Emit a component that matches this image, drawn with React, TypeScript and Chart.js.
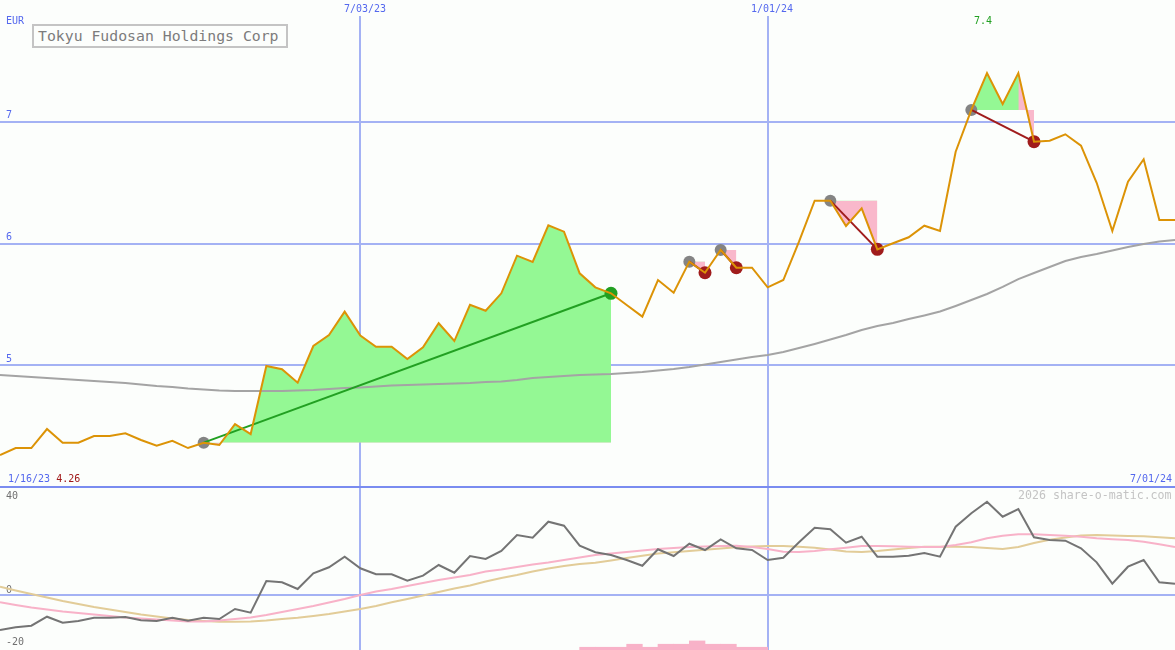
import React, { useEffect, useRef } from 'react';
import { Chart, registerables } from 'chart.js';

Chart.register(...registerables);

// ---------- DATA ----------
// weekly closes, index 0 = week of 1/16/23 ... index 75 = week of 7/01/24
const priceValues = [
  4.263, 4.32, 4.32, 4.476, 4.364, 4.364, 4.419, 4.419, 4.441, 4.386,
  4.339, 4.38, 4.32, 4.364, 4.345, 4.517, 4.435, 4.994, 4.967, 4.857,
  5.158, 5.248, 5.44, 5.243, 5.152, 5.152, 5.051, 5.147, 5.345, 5.199,
  5.497, 5.448, 5.591, 5.9, 5.848, 6.15, 6.097, 5.755, 5.64, 5.591,
  5.495, 5.399, 5.7, 5.596, 5.851, 5.76, 5.947, 5.801, 5.801, 5.64,
  5.7, 6.015, 6.352, 6.352, 6.144, 6.289, 5.952, 6.002, 6.051, 6.146,
  6.103, 6.754, 7.097, 7.4, 7.146, 7.4, 6.836, 6.844, 6.897, 6.803,
  6.499, 6.103, 6.508, 6.692, 6.193, 6.193,
];

const movingAverage = [
  4.92, 4.912, 4.903, 4.895, 4.887, 4.879, 4.871, 4.862, 4.854, 4.842,
  4.83, 4.821, 4.809, 4.801, 4.793, 4.789, 4.789, 4.789, 4.789, 4.793,
  4.797, 4.805, 4.813, 4.817, 4.825, 4.834, 4.838, 4.842, 4.846, 4.85,
  4.854, 4.862, 4.867, 4.879, 4.895, 4.903, 4.912, 4.92, 4.924, 4.928,
  4.936, 4.945, 4.957, 4.969, 4.986, 5.006, 5.027, 5.047, 5.068, 5.084,
  5.109, 5.142, 5.175, 5.211, 5.248, 5.29, 5.322, 5.347, 5.38, 5.409,
  5.441, 5.487, 5.536, 5.585, 5.643, 5.708, 5.758, 5.807, 5.856, 5.889,
  5.914, 5.943, 5.971, 5.996, 6.016, 6.029,
];

const oscillator = [
  -12.73, -11.75, -11.16, -7.89, -10.07, -9.45, -8.25, -8.25, -8.0, -9.2,
  -9.45, -8.25, -9.35, -8.25, -8.73, -5.09, -6.44, 5.09, 4.62, 2.18,
  7.89, 10.07, 13.93, 9.71, 7.53, 7.53, 5.2, 7.02, 10.91, 8.11,
  14.18, 13.09, 16.0, 21.82, 20.84, 26.65, 25.2, 17.93, 15.53, 14.55,
  12.73, 10.65, 16.62, 14.18, 18.65, 16.36, 20.25, 16.98, 16.36, 12.73,
  13.56, 19.16, 24.47, 23.89, 19.02, 21.2, 13.93, 13.93, 14.29, 15.27,
  13.93, 24.84, 29.71, 33.93, 28.47, 31.27, 20.98, 20.0, 19.75, 16.98,
  11.89, 4.11, 10.29, 12.73, 4.62, 4.11,
];

const oscillatorPink = [
  -2.65, -3.64, -4.55, -5.27, -6.0, -6.55, -7.09, -7.64, -8.18, -8.55,
  -8.91, -9.27, -9.64, -9.64, -9.27, -8.73, -8.18, -7.27, -6.18, -5.09,
  -4.0, -2.73, -1.45, 0.0, 1.27, 2.18, 3.27, 4.36, 5.45, 6.36,
  7.27, 8.55, 9.27, 10.18, 11.09, 11.82, 12.73, 13.64, 14.55, 15.09,
  15.64, 16.18, 16.73, 17.09, 17.45, 17.64, 17.82, 17.93, 17.45, 16.73,
  15.75, 15.64, 16.0, 16.62, 17.2, 17.82, 17.82, 17.71, 17.56, 17.45,
  17.45, 18.18, 19.16, 20.62, 21.56, 22.07, 22.07, 21.82, 21.56, 21.2,
  20.62, 20.25, 20.0, 19.38, 18.44, 17.45,
];

const oscillatorTan = [
  3.02, 1.64, 0.36, -0.91, -2.18, -3.27, -4.36, -5.27, -6.18, -7.09,
  -7.82, -8.55, -9.09, -9.45, -9.71, -9.71, -9.64, -9.27, -8.73, -8.25,
  -7.64, -6.91, -6.0, -5.09, -4.0, -2.65, -1.45, -0.18, 1.09, 2.36,
  3.45, 4.91, 6.18, 7.27, 8.55, 9.64, 10.55, 11.27, 11.75, 12.55,
  13.45, 14.29, 15.09, 15.53, 16.0, 16.47, 16.91, 17.35, 17.64, 17.82,
  17.82, 17.56, 17.2, 16.55, 15.82, 15.64, 16.0, 16.55, 17.09, 17.56,
  17.56, 17.56, 17.45, 17.09, 16.73, 17.45, 18.91, 20.11, 20.91, 21.64,
  21.82, 21.64, 21.45, 21.35, 20.98, 20.62,
];

// small histogram at the bottom of the lower panel (week index, value)
const barWeeks = [37, 38, 39, 40, 41, 42, 43, 44, 45, 46, 47, 48];
const barValues = [-19.0, -19.0, -19.0, -17.9, -19.0, -17.9, -17.9, -16.7, -17.9, -17.9, -19.0, -19.0];

// trades (week index of entry / exit)
const tradeEntry = [13, 44, 46, 53, 62];
const tradeExit = [39, 45, 47, 56, 66];
const tradeWon = [true, false, false, false, false];

// vertical date grid lines
const dateLineWeeks = [23, 49];
const dateLineLabels = ['7/03/23', '1/01/24'];
const priceTicks = [5, 6, 7];

// ---------- STYLE ----------
const FONT = "'DejaVu Sans Mono', 'Liberation Mono', monospace";
const BG = '#fcfefc';
const GRID = '#a4b2f4';
const DIVIDER = '#7a8cf0';
const BLUE = '#5468ee';
const GREEN_FILL = '#94f894';
const PINK_FILL = '#f9b8cb';
const PRICE = '#dc9306';
const MA_GREY = '#a4a4a4';
const TRADE_GREEN = '#22a022';
const TRADE_RED = '#a01c1c';
const ENTRY_GREY = '#848484';
const OSC_GREY = '#747474';
const OSC_PINK = '#f8b2c8';
const OSC_TAN = '#e2cc98';

const W = 1175;
const TOP_H = 487;
const PX_PER_EUR = 121.75;
const TOP_PAD = 16;

const pts = (arr: number[], from = 0, to = arr.length - 1) => {
  const out: { x: number; y: number }[] = [];
  for (let i = from; i <= to; i++) out.push({ x: i, y: arr[i] });
  return out;
};

function xScale() {
  return {
    type: 'linear' as const,
    min: 0,
    max: priceValues.length - 1,
    offset: false,
    border: { display: false },
    grid: { color: GRID, lineWidth: 2, drawTicks: false, offset: false },
    ticks: { display: false },
    afterBuildTicks: (s: any) => {
      s.ticks = dateLineWeeks.map((v) => ({ value: v }));
    },
    afterFit: (s: any) => {
      s.height = 0;
      s.paddingLeft = 0;
      s.paddingRight = 0;
    },
  };
}

const yFit = (s: any) => {
  s.width = 0;
  s.paddingTop = 0;
  s.paddingBottom = 0;
};

export default function App() {
  const topRef = useRef<HTMLCanvasElement>(null);
  const botRef = useRef<HTMLCanvasElement>(null);

  useEffect(() => {
    document.body.style.margin = '0';
    document.body.style.background = BG;

    const fillSets: any[] = [];
    tradeEntry.forEach((e, k) => {
      const x = tradeExit[k];
      const base = priceValues[e];
      fillSets.push({
        data: pts(priceValues, e, x),
        borderWidth: 0,
        borderColor: 'transparent',
        pointRadius: 0,
        fill: { value: base, above: GREEN_FILL, below: PINK_FILL },
        order: 7,
      });
      if (!tradeWon[k]) {
        // the losing exit leg is shaded pink on both sides of the entry level
        fillSets.push({
          data: pts(priceValues, x - 1, x),
          borderWidth: 0,
          borderColor: 'transparent',
          pointRadius: 0,
          fill: { value: base, above: PINK_FILL, below: PINK_FILL },
          order: 6,
        });
      }
    });

    const tradeLines = tradeEntry.map((e, k) => ({
      data: [
        { x: e, y: priceValues[e] },
        { x: tradeExit[k], y: priceValues[tradeExit[k]] },
      ],
      borderColor: tradeWon[k] ? TRADE_GREEN : TRADE_RED,
      borderWidth: 2,
      pointRadius: 0,
      fill: false,
      order: 2,
    }));

    const top = new Chart(topRef.current as HTMLCanvasElement, {
      type: 'line',
      data: {
        datasets: [
          ...fillSets,
          {
            data: pts(movingAverage),
            borderColor: MA_GREY,
            borderWidth: 2,
            pointRadius: 0,
            fill: false,
            order: 5,
          },
          {
            data: tradeEntry.map((e) => ({ x: e, y: priceValues[e] })),
            showLine: false,
            pointRadius: 6,
            pointBorderWidth: 0,
            pointBackgroundColor: ENTRY_GREY,
            order: 4,
          },
          {
            data: tradeExit.map((e) => ({ x: e, y: priceValues[e] })),
            showLine: false,
            pointRadius: 6.5,
            pointBorderWidth: 0,
            pointBackgroundColor: tradeWon.map((w) => (w ? TRADE_GREEN : TRADE_RED)),
            order: 3,
          },
          ...tradeLines,
          {
            data: pts(priceValues),
            borderColor: PRICE,
            borderWidth: 2,
            pointRadius: 0,
            fill: false,
            order: 1,
          },
        ],
      },
      options: {
        animation: false,
        responsive: false,
        maintainAspectRatio: false,
        layout: { autoPadding: false, padding: { top: TOP_PAD, left: 0, right: 0, bottom: 0 } },
        plugins: { legend: { display: false }, tooltip: { enabled: false } },
        elements: { line: { tension: 0 }, point: { radius: 0 } },
        scales: {
          x: xScale() as any,
          y: {
            type: 'linear',
            min: 4,
            max: 4 + (TOP_H - TOP_PAD) / PX_PER_EUR,
            border: { display: false },
            grid: { color: GRID, lineWidth: 2, drawTicks: false },
            ticks: {
              mirror: true,
              padding: 6,
              labelOffset: -6,
              color: BLUE,
              font: { family: FONT, size: 10 },
            },
            afterBuildTicks: (s: any) => {
              s.ticks = priceTicks.map((v) => ({ value: v }));
            },
            afterFit: yFit,
          } as any,
        },
      },
    });

    const bot = new Chart(botRef.current as HTMLCanvasElement, {
      type: 'line',
      data: {
        datasets: [
          {
            type: 'bar',
            data: barWeeks.map((w, i) => ({ x: w + 0.5, y: barValues[i] })),
            backgroundColor: OSC_PINK,
            base: -20,
            barPercentage: 1,
            categoryPercentage: 1,
            grouped: false,
            order: 4,
          } as any,
          {
            data: pts(oscillatorTan),
            borderColor: OSC_TAN,
            borderWidth: 2,
            pointRadius: 0,
            fill: false,
            order: 3,
          },
          {
            data: pts(oscillatorPink),
            borderColor: OSC_PINK,
            borderWidth: 2,
            pointRadius: 0,
            fill: false,
            order: 2,
          },
          {
            data: pts(oscillator),
            borderColor: OSC_GREY,
            borderWidth: 2,
            pointRadius: 0,
            fill: false,
            order: 1,
          },
        ],
      },
      options: {
        animation: false,
        responsive: false,
        maintainAspectRatio: false,
        layout: { autoPadding: false, padding: 0 },
        plugins: { legend: { display: false }, tooltip: { enabled: false } },
        elements: { line: { tension: 0 }, point: { radius: 0 } },
        scales: {
          x: xScale() as any,
          y: {
            type: 'linear',
            min: -20,
            max: 40,
            border: { display: false },
            grid: { color: GRID, lineWidth: 2, drawTicks: false },
            ticks: {
              mirror: true,
              padding: 6,
              labelOffset: -5,
              color: '#707070',
              font: { family: FONT, size: 10 },
            },
            afterBuildTicks: (s: any) => {
              s.ticks = [{ value: 0 }];
            },
            afterFit: yFit,
          } as any,
        },
      },
    });

    return () => {
      top.destroy();
      bot.destroy();
    };
  }, []);

  const txt = (extra: React.CSSProperties): React.CSSProperties => ({
    position: 'absolute',
    whiteSpace: 'nowrap',
    fontFamily: FONT,
    fontSize: 10,
    lineHeight: '10px',
    ...extra,
  });

  return (
    <div style={{ position: 'relative', width: W, height: 650, background: BG, overflow: 'hidden' }}>
      <canvas ref={topRef} width={W} height={TOP_H} style={{ position: 'absolute', left: 0, top: 0, display: 'block' }} />
      <canvas ref={botRef} width={W} height={165} style={{ position: 'absolute', left: 0, top: 485, display: 'block' }} />
      <div style={{ position: 'absolute', left: 0, top: 486, width: W, height: 2, background: DIVIDER }} />

      <div style={txt({ left: 6, top: 16, color: BLUE })}>EUR</div>
      <div style={txt({ left: 344, top: 4, color: BLUE })}>{dateLineLabels[0]}</div>
      <div style={txt({ left: 751, top: 4, color: BLUE })}>{dateLineLabels[1]}</div>
      <div style={txt({ left: 974, top: 16, color: TRADE_GREEN })}>7.4</div>
      <div style={txt({ left: 8, top: 474, color: BLUE })}>
        1/16/23 <span style={{ color: '#a01818' }}>4.26</span>
      </div>
      <div style={txt({ left: 1130, top: 474, color: BLUE })}>7/01/24</div>
      <div style={txt({ left: 6, top: 491, color: '#707070' })}>40</div>
      <div style={txt({ left: 6, top: 637, color: '#707070' })}>-20</div>
      <div style={txt({ left: 1018, top: 490, fontSize: 11.6, lineHeight: '11.6px', color: '#c4c4c4' })}>
        2026 share-o-matic.com
      </div>

      <div
        style={{
          position: 'absolute',
          left: 32,
          top: 24,
          width: 256,
          height: 24,
          boxSizing: 'border-box',
          border: '2px solid #c4c4c4',
          background: BG,
          color: '#7c7c7c',
          fontFamily: FONT,
          fontSize: 14.8,
          lineHeight: '20px',
          paddingLeft: 4,
          whiteSpace: 'nowrap',
        }}
      >
        Tokyu Fudosan Holdings Corp
      </div>
    </div>
  );
}
